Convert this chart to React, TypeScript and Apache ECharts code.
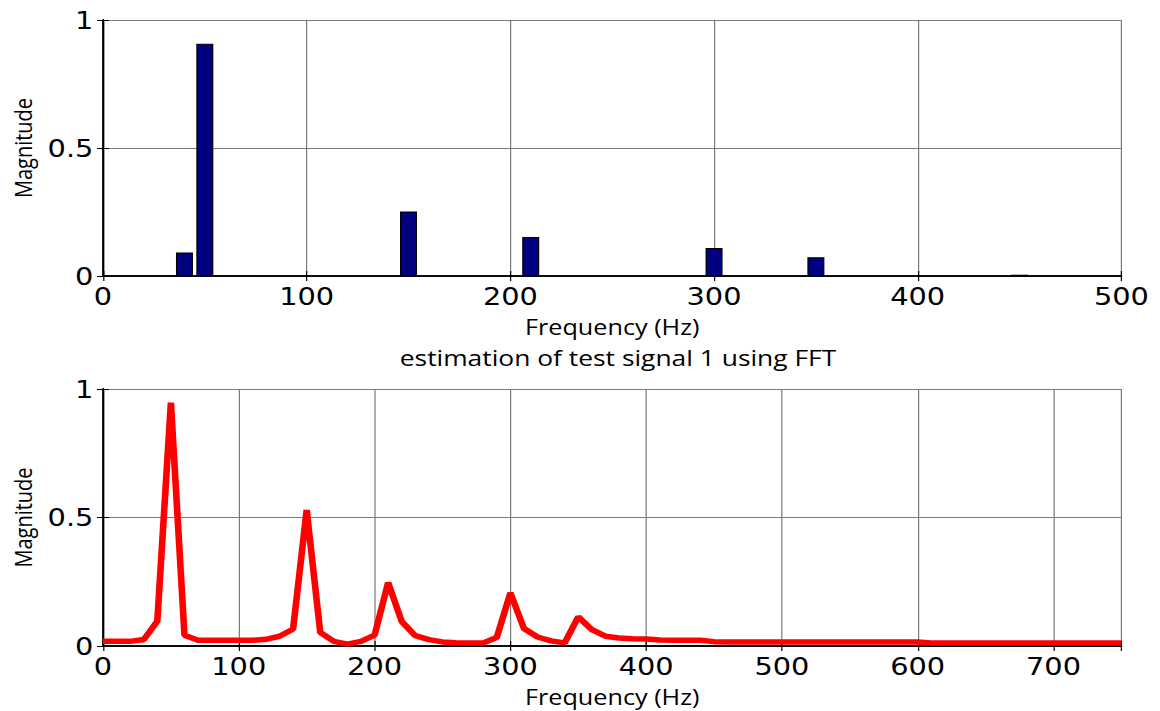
import React, { useEffect, useRef } from "react";
import * as echarts from "echarts";

// Top plot: bar spectrum
const barFreqs = [40, 50, 150, 210, 300, 350, 450];
const barMags = [0.092, 0.907, 0.252, 0.152, 0.109, 0.073, 0.005];

// Bottom plot: FFT estimation line
const lineFreqs = [
  0, 10, 20, 30, 40, 50, 60, 70, 80, 90, 100, 110, 120, 130, 140, 150, 160, 170, 180, 190,
  200, 210, 220, 230, 240, 250, 260, 270, 280, 290, 300, 310, 320, 330, 340, 350, 360, 370, 380, 390,
  400, 410, 420, 430, 440, 450, 460, 470, 480, 490, 500, 510, 520, 530, 540, 550, 560, 570, 580, 590,
  600, 610, 620, 630, 640, 650, 660, 670, 680, 690, 700, 710, 720, 730, 740, 750,
];
const lineMags = [
  0.018, 0.018, 0.018, 0.025, 0.097, 0.947, 0.042, 0.022, 0.022, 0.022, 0.022, 0.022, 0.026, 0.038, 0.066, 0.529, 0.053, 0.018, 0.007, 0.018,
  0.042, 0.247, 0.095, 0.04, 0.025, 0.016, 0.013, 0.012, 0.012, 0.033, 0.207, 0.068, 0.035, 0.02, 0.012, 0.113, 0.064, 0.038, 0.031, 0.028,
  0.027, 0.023, 0.022, 0.022, 0.022, 0.017, 0.016, 0.016, 0.016, 0.016, 0.016, 0.016, 0.016, 0.016, 0.016, 0.016, 0.016, 0.016, 0.016, 0.016,
  0.016, 0.012, 0.012, 0.012, 0.012, 0.012, 0.012, 0.012, 0.012, 0.012, 0.012, 0.012, 0.012, 0.012, 0.012, 0.012,
];

const yTicks = [0, 0.5, 1];
const titleText = "estimation of test signal 1 using FFT";
const xName = "Frequency (Hz)";
const yName = "Magnitude";

const tickFont = "DejaVu Sans";
const textFont = "Open Sans";

// The reference figure is stretched horizontally; render narrower and stretch.
const STRETCH = 1.2;
const FULL_W = 1160;
const FULL_H = 711;

export default function App() {
  const ref = useRef<HTMLDivElement>(null);
  useEffect(() => {
    if (!ref.current) return;
    const chart = echarts.init(ref.current, null, { renderer: "svg" });
    const axisLine = { show: true, lineStyle: { color: "#000", width: 1.5 } };
    const tick = { show: true, inside: true, length: 5, lineStyle: { color: "#000" } };
    const split = { show: true, lineStyle: { color: "#7a7a7a", width: 1 } };
    const xLabel = { color: "#000", fontFamily: tickFont, fontSize: 24, margin: 8 };
    const yLabel = {
      color: "#000",
      fontFamily: tickFont,
      fontSize: 24,
      margin: 8,
      formatter: (v: number) => (yTicks.includes(v) ? String(v) : ""),
    };
    const nameStyle = { color: "#000", fontFamily: textFont, fontSize: 21 };
    const s = (v: number) => v / STRETCH;
    const grids = [
      { left: s(103), right: s(39), top: 20, height: 256 },
      { left: s(103), right: s(39), top: 389, height: 257 },
    ];
    const mkX = (gi: number, max: number) => [
      {
        type: "value",
        gridIndex: gi,
        min: 0,
        max,
        interval: 100,
        axisLine,
        axisTick: tick,
        splitLine: split,
        axisLabel: { ...xLabel, formatter: (v: number) => (v % 100 === 0 ? String(v) : "") },
        name: xName,
        nameLocation: "middle",
        nameGap: 40,
        nameTextStyle: nameStyle,
      },
      {
        type: "value",
        gridIndex: gi,
        position: "top",
        min: 0,
        max,
        interval: 100,
        axisLine,
        axisTick: tick,
        splitLine: { show: false },
        axisLabel: { show: false },
      },
    ];
    const mkY = (gi: number) => [
      {
        type: "value",
        gridIndex: gi,
        min: 0,
        max: 1,
        interval: 0.5,
        axisLine,
        axisTick: tick,
        splitLine: split,
        axisLabel: yLabel,
        name: yName,
        nameLocation: "middle",
        nameRotate: 90,
        nameGap: 57,
        nameTextStyle: { ...nameStyle, fontSize: 20 },
      },
      {
        type: "value",
        gridIndex: gi,
        position: "right",
        min: 0,
        max: 1,
        interval: 0.5,
        axisLine,
        axisTick: tick,
        splitLine: { show: false },
        axisLabel: { show: false },
      },
    ];
    chart.setOption({
      animation: false,
      backgroundColor: "#fff",
      title: {
        text: titleText,
        left: s(612),
        textAlign: "center",
        top: 341,
        textStyle: { color: "#000", fontFamily: textFont, fontSize: 22, fontWeight: "normal" },
      },
      grid: grids,
      xAxis: [...mkX(0, 500), ...mkX(1, 750)],
      yAxis: [...mkY(0), ...mkY(1)],
      series: [
        {
          type: "bar",
          xAxisIndex: 0,
          yAxisIndex: 0,
          barWidth: s(17),
          data: barFreqs.map((f, i) => [f, barMags[i]]),
          itemStyle: { color: "#000080", borderColor: "#000", borderWidth: 1 },
        },
        {
          type: "line",
          xAxisIndex: 2,
          yAxisIndex: 2,
          data: lineFreqs.map((f, i) => [f, lineMags[i]]),
          showSymbol: false,
          lineStyle: { color: "#ff0000", width: 5.5 },
        },
      ],
    });
    return () => chart.dispose();
  }, []);
  return (
    <div
      style={{
        position: "fixed",
        left: 0,
        top: 0,
        width: FULL_W,
        height: FULL_H,
        overflow: "hidden",
        background: "#fff",
      }}
    >
      <div
        ref={ref}
        style={{
          width: FULL_W / STRETCH,
          height: FULL_H,
          transform: `scaleX(${STRETCH})`,
          transformOrigin: "0 0",
        }}
      />
    </div>
  );
}
